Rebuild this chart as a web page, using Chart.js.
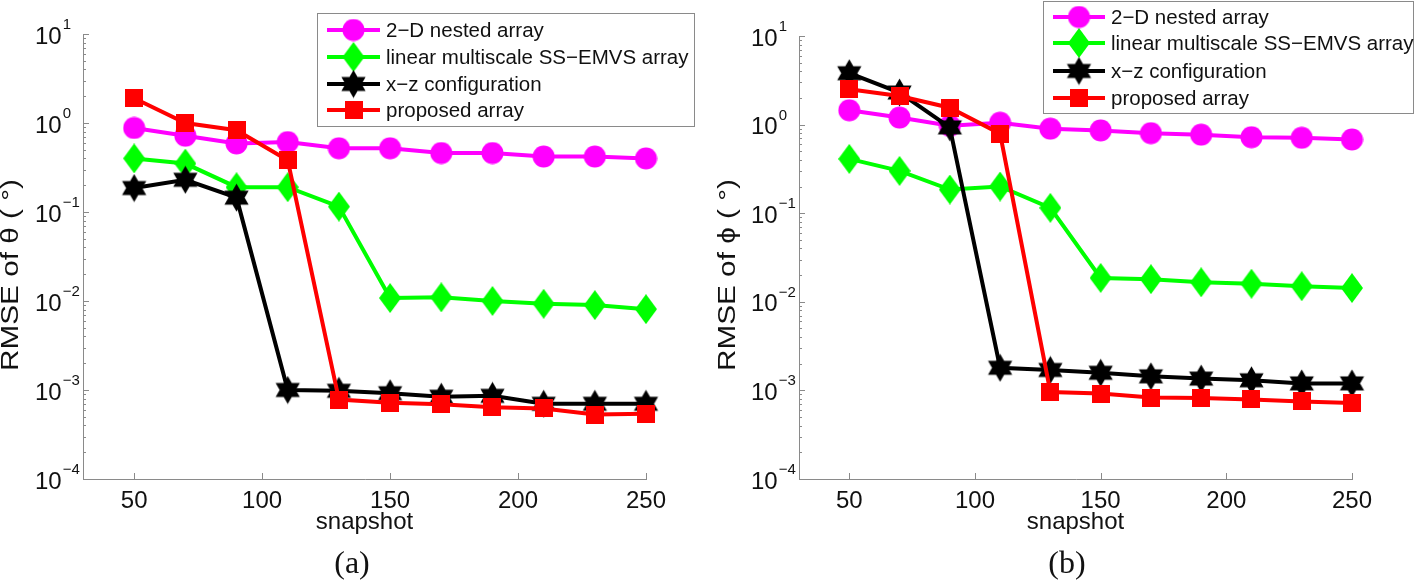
<!DOCTYPE html>
<html>
<head>
<meta charset="utf-8">
<script src="https://cdn.jsdelivr.net/npm/chart.js@4"></script>
<style>
  body { margin: 0; background: #fff; width: 1415px; height: 585px; overflow: hidden; position: relative; }
  canvas { position: absolute; top: 0; }
</style>
</head>
<body>
<canvas id="chartA" width="707" height="585" style="left:0"></canvas>
<canvas id="chartB" width="708" height="585" style="left:707px"></canvas>
<script>
// snapshot counts on the x axis
const snapshots = [50, 70, 90, 110, 130, 150, 170, 190, 210, 230, 250];
const seriesNames = ["2\u2212D nested array", "linear multiscale SS\u2212EMVS array", "x\u2212z configuration", "proposed array"];

// (a) RMSE of theta
const thetaNested = [0.88, 0.72, 0.59, 0.61, 0.52, 0.52, 0.46, 0.46, 0.42, 0.42, 0.40];
const thetaMultiscale = [0.40, 0.35, 0.19, 0.19, 0.115, 0.0108, 0.011, 0.010, 0.0093, 0.009, 0.0081];
const thetaXZ = [0.186, 0.23, 0.145, 0.00100, 0.00098, 0.00092, 0.00084, 0.00086, 0.00070, 0.00070, 0.00070];
const thetaProposed = [1.9, 1.0, 0.83, 0.38, 0.00078, 0.00072, 0.00069, 0.00064, 0.00062, 0.00053, 0.00054];

// (b) RMSE of phi
const phiNested = [1.45, 1.2, 0.97, 1.05, 0.9, 0.86, 0.8, 0.77, 0.72, 0.71, 0.68];
const phiMultiscale = [0.41, 0.30, 0.185, 0.20, 0.115, 0.0186, 0.018, 0.0166, 0.016, 0.015, 0.0143];
const phiXZ = [3.8, 2.3, 0.93, 0.0018, 0.0017, 0.00158, 0.00144, 0.00136, 0.0013, 0.0012, 0.0012];
const phiProposed = [2.5, 2.1, 1.55, 0.79, 0.00096, 0.00092, 0.00083, 0.00082, 0.00079, 0.00075, 0.00072];

// axis ticks
const xTicks = [50, 100, 150, 200, 250];
const yExponents = [-4, -3, -2, -1, 0, 1];

const FONT = '"Liberation Sans", Arial, sans-serif';
const AXIS_COLOR = "#8a8a8a";
const colors = ["#ff00ff", "#00ff00", "#000000", "#ff0000"];

function markerCanvas(kind, color) {
  const sizes = { circle: [23, 23], diamond: [22, 30], hexagram: [29, 29], square: [18, 18] };
  const [w, h] = sizes[kind];
  const c = document.createElement("canvas");
  c.width = w; c.height = h;
  const g = c.getContext("2d");
  g.fillStyle = color;
  g.beginPath();
  if (kind === "circle") {
    g.arc(w / 2, h / 2, w / 2 - 0.5, 0, Math.PI * 2);
  } else if (kind === "diamond") {
    g.moveTo(w / 2, 0); g.lineTo(w, h / 2); g.lineTo(w / 2, h); g.lineTo(0, h / 2);
  } else if (kind === "square") {
    g.rect(0, 0, w, h);
  } else {
    const r = w / 2 - 0.5;
    [-90, 90].forEach(start => {
      for (let k = 0; k < 3; k++) {
        const ang = (start + k * 120) * Math.PI / 180;
        const px = w / 2 + r * Math.cos(ang), py = h / 2 + r * Math.sin(ang);
        if (k === 0) g.moveTo(px, py); else g.lineTo(px, py);
      }
      g.closePath();
    });
  }
  g.fill();
  return c;
}

const markers = [
  markerCanvas("circle", colors[0]),
  markerCanvas("diamond", colors[1]),
  markerCanvas("hexagram", colors[2]),
  markerCanvas("square", colors[3]),
];

const figDeco = {
  id: "figDeco",
  beforeDatasetsDraw(chart, args, o) {
    const { ctx, chartArea: a, scales: { x, y } } = chart;
    ctx.save();
    ctx.strokeStyle = AXIS_COLOR;
    ctx.lineWidth = 1;
    ctx.beginPath();
    ctx.moveTo(a.left + 0.5, a.top);
    ctx.lineTo(a.left + 0.5, a.bottom + 0.5);
    ctx.lineTo(a.right + 1, a.bottom + 0.5);
    yExponents.forEach((e, i) => {
      const py = Math.round(y.getPixelForValue(10 ** e)) + 0.5;
      ctx.moveTo(a.left, py); ctx.lineTo(a.left + 6, py);
      if (i < yExponents.length - 1) {
        for (let m = 2; m <= 9; m++) {
          const my = Math.round(y.getPixelForValue(m * 10 ** e)) + 0.5;
          ctx.moveTo(a.left, my); ctx.lineTo(a.left + 3, my);
        }
      }
    });
    xTicks.forEach(v => {
      const px = Math.round(x.getPixelForValue(v)) + 0.5;
      ctx.moveTo(px, a.bottom); ctx.lineTo(px, a.bottom - 6);
    });
    ctx.stroke();

    ctx.fillStyle = "#111";
    // y tick labels 10^e
    yExponents.forEach(e => {
      const py = y.getPixelForValue(10 ** e);
      const lx = a.left - 48;
      ctx.font = "24px " + FONT;
      ctx.textAlign = "left";
      ctx.textBaseline = "alphabetic";
      ctx.fillText("10", lx, py + 9.5);
      const w = ctx.measureText("10").width;
      ctx.font = "15px " + FONT;
      ctx.fillText(e < 0 ? "\u2212" + (-e) : String(e), lx + w + 1, py - 5);
    });
    // x tick labels
    ctx.font = "24px " + FONT;
    ctx.textAlign = "center";
    xTicks.forEach(v => ctx.fillText(String(v), x.getPixelForValue(v), a.bottom + 29));
    // x title
    ctx.fillText("snapshot", (a.left + a.right) / 2, a.bottom + 50);
    // panel label
    ctx.font = "32px \"Liberation Serif\", \"Times New Roman\", serif";
    ctx.fillText(o.panel, o.panelX, 573);
    // y title, stretched along its length like the original
    ctx.font = "23px " + FONT;
    const tw = ctx.measureText(o.yTitle).width;
    ctx.translate(o.yTitleX, 275);
    ctx.rotate(-Math.PI / 2);
    ctx.scale(192 / tw, 1);
    ctx.textAlign = "center";
    ctx.fillText(o.yTitle, 0, 0);
    ctx.restore();
  },
  afterDraw(chart, args, o) {
    const { ctx } = chart;
    const b = o.legend;
    ctx.save();
    ctx.fillStyle = "#fff";
    ctx.fillRect(b.x, b.y, b.w, b.h);
    ctx.strokeStyle = AXIS_COLOR;
    ctx.lineWidth = 1;
    ctx.strokeRect(b.x + 0.5, b.y + 0.5, b.w, b.h);
    seriesNames.forEach((name, i) => {
      const ry = b.y + b.rows[i];
      ctx.strokeStyle = colors[i];
      ctx.lineWidth = 4;
      ctx.beginPath();
      ctx.moveTo(b.x + 10, ry); ctx.lineTo(b.x + b.lineEnd, ry);
      ctx.stroke();
      const mk = markers[i];
      ctx.drawImage(mk, b.x + (10 + b.lineEnd) / 2 - mk.width / 2, ry - mk.height / 2);
      ctx.fillStyle = "#111";
      ctx.font = "20.5px " + FONT;
      ctx.textAlign = "left";
      ctx.textBaseline = "middle";
      ctx.fillText(name, b.x + b.lineEnd + 6, ry + 1);
    });
    ctx.restore();
  }
};

function makeChart(canvasId, values, deco, padding) {
  const datasets = values.map((vals, i) => ({
    label: seriesNames[i],
    data: snapshots.map((s, k) => ({ x: s, y: vals[k] })),
    borderColor: colors[i],
    backgroundColor: colors[i],
    borderWidth: 4,
    pointStyle: markers[i],
    pointRadius: 6,
    tension: 0,
    clip: false,
    order: 4 - i,
  }));
  return new Chart(document.getElementById(canvasId), {
    type: "line",
    data: { datasets },
    options: {
      responsive: false,
      animation: false,
      devicePixelRatio: 1,
      layout: { padding },
      scales: {
        x: { type: "linear", min: 30, max: 250, display: false },
        y: { type: "logarithmic", min: 1e-4, max: 10, display: false },
      },
      plugins: {
        legend: { display: false },
        tooltip: { enabled: false },
        figDeco: deco,
      },
    },
    plugins: [figDeco],
  });
}

makeChart("chartA", [thetaNested, thetaMultiscale, thetaXZ, thetaProposed], {
  panel: "(a)", panelX: 352, yTitle: "RMSE of \u03b8 ( \u00b0)", yTitleX: 18,
  legend: { x: 317, y: 13, w: 377, h: 113, rows: [17, 44, 71, 97], lineEnd: 63 },
}, { left: 83, right: 61, top: 34, bottom: 106 });

makeChart("chartB", [phiNested, phiMultiscale, phiXZ, phiProposed], {
  panel: "(b)", panelX: 360, yTitle: "RMSE of \u03d5 ( \u00b0)", yTitleX: 28,
  legend: { x: 336, y: 1, w: 370, h: 112, rows: [16, 42, 70, 97], lineEnd: 62 },
}, { left: 92, right: 63, top: 36, bottom: 106 });
</script>
</body>
</html>
